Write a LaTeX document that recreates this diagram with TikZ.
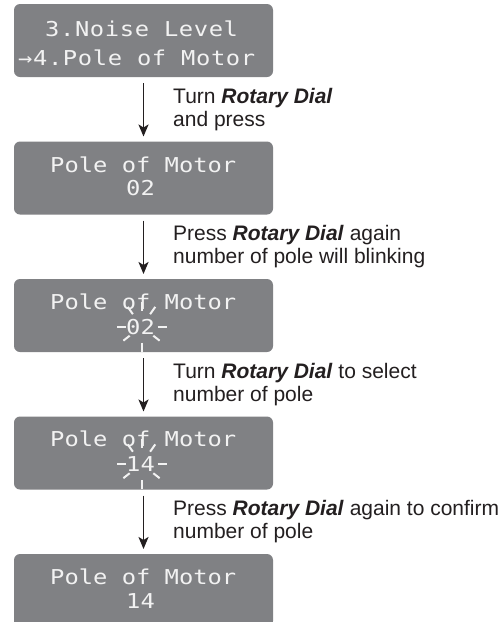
\documentclass[tikz,border=0pt]{standalone}
\usepackage{fontspec}
\setmainfont{Liberation Sans}
\newfontfamily\lcdfont{DejaVu Sans Mono}[FakeStretch=1.16]
\usetikzlibrary{arrows.meta,calc}
\definecolor{lcdgray}{RGB}{128,129,132}
\definecolor{lcdtext}{RGB}{242,242,242}
\definecolor{ink}{RGB}{35,31,32}
\begin{document}
\begin{tikzpicture}[x=1pt,y=-1pt,
  lcdbox/.style={fill=lcdgray, rounded corners=6pt, minimum width=259pt, minimum height=73pt, inner sep=0pt, outer sep=0pt},
  lcdline/.style={text=lcdtext, font=\lcdfont\fontsize{20.5}{20.5}\selectfont, inner sep=0pt, anchor=base west},
  widelcd/.style={lcdline, font=\lcdfont\fontsize{20.5}{20.5}\selectfont\addfontfeatures{LetterSpace=3}},
  ray/.style={draw=lcdtext, line width=2pt},
  flow/.style={draw=ink, line width=1.8pt, -{Stealth[length=12pt,width=10pt,inset=3pt]}},
  lbl/.style={text=ink, font=\fontsize{21}{23}\selectfont, align=left, inner sep=0pt, anchor=west}]
\fill[white] (0,0) rectangle (502,622);
\useasboundingbox (0,0) rectangle (502,622);
\begin{scope}
\clip (0,0) rectangle (502,622);
\node[lcdbox] (b1) at (143.5,40.5) {};
\node[lcdbox] (b2) at (143.5,178) {};
\node[lcdbox] (b3) at (143.5,315.5) {};
\node[lcdbox] (b4) at (143.5,453) {};
\node[lcdbox] (b5) at (143.5,590.5) {};
\end{scope}
% LCD texts
\node[widelcd] (l1a) at (45,36) {3.Noise Level};
\node[widelcd] (l1b) at (18,65) {→4.Pole of Motor};
\node[lcdline] (l2a) at (50,172) {Pole of Motor};
\node[lcdline] (l2b) at (126,195) {02};
\node[lcdline] (l3a) at (50,309) {Pole of Motor};
\node[lcdline] (l3b) at (126,334) {02};
\node[lcdline] (l4a) at (50,446.5) {Pole of Motor};
\node[lcdline] (l4b) at (126,471.5) {14};
\node[lcdline] (l5a) at (50,584) {Pole of Motor};
\node[lcdline] (l5b) at (126,608) {14};
% blinking rays
\coordinate (c3) at (141.5,326.5);
\coordinate (c4) at (141.5,464);
\foreach \c in {c3,c4}{
  \foreach \a/\r/\R in {0/16/25,180/16/25,90/16/25,270/16/25,305/15/24,235/15/24,38/15/23,142/15/23}{
    \draw[ray] ($(\c)+(\a:\r)$) -- ($(\c)+(\a:\R)$);
  }
}
% arrows
\draw[flow] ([yshift=-6pt]b1.south) -- ([yshift=5pt]b2.north);
\draw[flow] ([yshift=-6pt]b2.south) -- ([yshift=5pt]b3.north);
\draw[flow] ([yshift=-6pt]b3.south) -- ([yshift=5pt]b4.north);
\draw[flow] ([yshift=-6pt]b4.south) -- ([yshift=5pt]b5.north);
% labels
\path (b1.south) -- (b2.north) coordinate[pos=0.5] (m1);
\path (b2.south) -- (b3.north) coordinate[pos=0.5] (m2);
\path (b3.south) -- (b4.north) coordinate[pos=0.5] (m3);
\path (b4.south) -- (b5.north) coordinate[pos=0.5] (m4);
\node[lbl] (t1) at ([xshift=29.5pt]m1) {Turn \textbf{\textit{Rotary Dial}}\\and press};
\node[lbl] (t2) at ([xshift=29.5pt]m2) {Press \textbf{\textit{Rotary Dial}} again\\number of pole will blinking};
\node[lbl] (t3) at ([xshift=29.5pt]m3) {Turn \textbf{\textit{Rotary Dial}} to select\\number of pole};
\node[lbl] (t4) at ([xshift=29.5pt]m4) {Press \textbf{\textit{Rotary Dial}} again to confirm\\number of pole};
\end{tikzpicture}
\end{document}
